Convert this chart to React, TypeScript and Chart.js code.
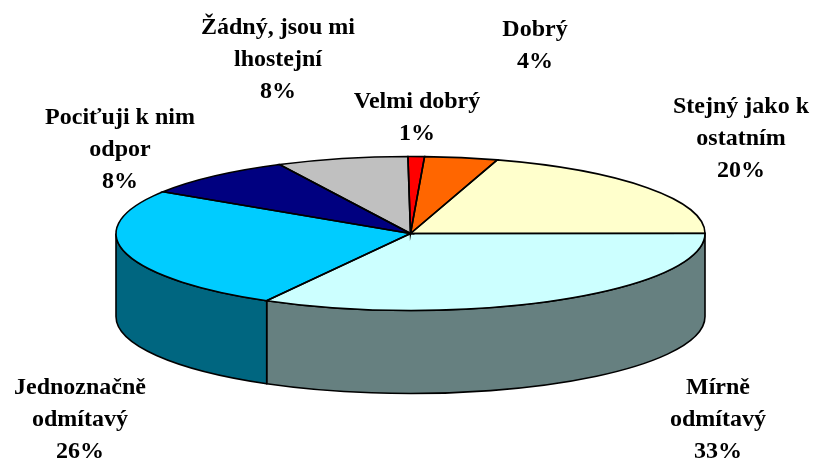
import React, { useEffect, useRef } from "react";
import { Chart, registerables } from "chart.js";

Chart.register(...registerables);

const categories: string[][] = [
  ["Velmi dobrý"],
  ["Dobrý"],
  ["Stejný jako k", "ostatním"],
  ["Mírně", "odmítavý"],
  ["Jednoznačně", "odmítavý"],
  ["Pociťuji k nim", "odpor"],
  ["Žádný, jsou mi", "lhostejní"],
];
const printedPercents = [1, 4, 20, 33, 26, 8, 8];
const shares = [0.9, 4, 20.2, 33.17, 26, 8.55, 7.2];
const topColors = ["#FF0000", "#FF6600", "#FFFFCC", "#CCFFFF", "#00CCFF", "#000080", "#C0C0C0"];
const wallColors = ["#800000", "#803300", "#808066", "#668080", "#006680", "#000040", "#606060"];

// Layout of the tilted pie and of its labels
const CENTER_X = 410.5;
const CENTER_Y = 233.5;
const RADIUS_X = 294.5;
const RADIUS_Y = 77;
const DEPTH = 83;
const LINE_HEIGHT = 31.7;
const labelCenters = [
  [417, 102],
  [535, 30],
  [741, 107],
  [718, 388],
  [80, 388],
  [120, 118],
  [278, 28],
];

const tiltedPie = {
  id: "tiltedPie",
  beforeDatasetsDraw(chart: any) {
    const ctx = chart.ctx;
    const arcs = chart.getDatasetMeta(0).data;
    const { x, y, outerRadius } = arcs[0];
    ctx.save();
    ctx.lineWidth = 1.6;
    ctx.strokeStyle = "#000";
    arcs.forEach((arc: any, i: number) => {
      const s = Math.max(arc.startAngle, 0);
      const e = Math.min(arc.endAngle, Math.PI);
      if (e <= s) return;
      ctx.beginPath();
      ctx.ellipse(CENTER_X, CENTER_Y, RADIUS_X, RADIUS_Y, 0, s, e);
      ctx.ellipse(CENTER_X, CENTER_Y + DEPTH, RADIUS_X, RADIUS_Y, 0, e, s, true);
      ctx.closePath();
      ctx.fillStyle = wallColors[i];
      ctx.fill();
      ctx.stroke();
    });
    ctx.restore();
    ctx.save();
    ctx.translate(CENTER_X, CENTER_Y);
    ctx.scale(RADIUS_X / outerRadius, RADIUS_Y / outerRadius);
    ctx.translate(-x, -y);
  },
  afterDatasetsDraw(chart: any) {
    const ctx = chart.ctx;
    ctx.restore();
    const arcs = chart.getDatasetMeta(0).data;
    ctx.save();
    ctx.lineWidth = 1.6;
    ctx.strokeStyle = "#000";
    ctx.lineJoin = "miter";
    arcs.forEach((arc: any) => {
      ctx.beginPath();
      ctx.moveTo(CENTER_X, CENTER_Y);
      ctx.ellipse(CENTER_X, CENTER_Y, RADIUS_X, RADIUS_Y, 0, arc.startAngle, arc.endAngle);
      ctx.closePath();
      ctx.stroke();
    });
    ctx.fillStyle = "#000";
    ctx.font = 'bold 24px "Liberation Serif"';
    ctx.textAlign = "center";
    ctx.textBaseline = "middle";
    categories.forEach((lines, i) => {
      const [cx, cy] = labelCenters[i];
      [...lines, `${printedPercents[i]}%`].forEach((line, k) => {
        ctx.fillText(line, cx, cy + k * LINE_HEIGHT);
      });
    });
    ctx.restore();
  },
};

export default function App() {
  const ref = useRef<HTMLCanvasElement>(null);
  useEffect(() => {
    const chart = new Chart(ref.current!, {
      type: "pie",
      data: {
        labels: categories,
        datasets: [
          {
            data: shares,
            backgroundColor: topColors,
            borderWidth: 0,
            clip: false,
          } as any,
        ],
      },
      options: {
        responsive: false,
        animation: false,
        rotation: -0.5,
        layout: { padding: 0 },
        plugins: { legend: { display: false }, tooltip: { enabled: false } },
      },
      plugins: [tiltedPie],
    });
    return () => chart.destroy();
  }, []);
  return (
    <div style={{ position: "absolute", left: 0, top: 0, width: 815, height: 459, background: "#fff" }}>
      <canvas ref={ref} width={815} height={459} style={{ display: "block" }} />
    </div>
  );
}
